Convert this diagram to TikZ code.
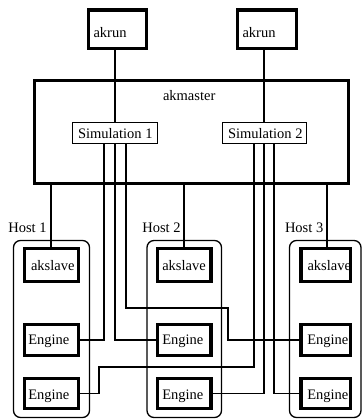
\documentclass[tikz,border=0pt]{standalone}
\usepackage{fontspec}
\setmainfont{Liberation Serif}
\begin{document}
\begin{tikzpicture}[x=1pt,y=-1pt,
  thickbox/.style={draw,line width=3.2pt,fill=white,inner sep=0pt,outer sep=0pt},
  simbox/.style={draw,line width=1.1pt,fill=white,inner sep=0pt,outer sep=0pt,minimum height=20.9pt},
  hostbox/.style={draw,line width=1.3pt,rounded corners=7pt},
  conn/.style={line width=1.1pt},
  lbl/.style={anchor=base west,inner sep=0pt,outer sep=0pt,font=\fontsize{14.5}{17}\selectfont}]
\useasboundingbox (0,0) rectangle (362,419);
% host boxes
\draw[hostbox] (13.5,240.5) rectangle (89.5,417.5);
\draw[hostbox] (147,240.5) rectangle (221.5,417.5);
\draw[hostbox] (289.5,240.5) rectangle (361,417.5);
% akmaster
\node[draw,line width=3.2pt,inner sep=0pt,outer sep=0pt,minimum width=313.8pt,minimum height=102.8pt] (m) at (191.5,132) {};
% boxes (coordinates only, drawn later)
\path (117.5,29.25) coordinate (r1c) (267,29.25) coordinate (r2c);
% run boxes
\node[thickbox,minimum width=57.8pt,minimum height=38.3pt] (r1) at (117.5,29.25) {};
\node[thickbox,minimum width=58.8pt,minimum height=38.3pt] (r2) at (267,29.25) {};
% sims
\node[simbox,minimum width=84.9pt] (s1) at (115,133) {};
\node[simbox,minimum width=83.9pt] (s2) at (264.5,133) {};
% slaves & engines
\node[thickbox,minimum width=53.8pt,minimum height=32.8pt] (sl1) at (51.5,265) {};
\node[thickbox,minimum width=53.5pt,minimum height=32.8pt] (sl2) at (184.3,265) {};
\node[thickbox,minimum width=49.3pt,minimum height=32.8pt] (sl3) at (325.7,265) {};
\node[thickbox,minimum width=53.8pt,minimum height=30.8pt] (e11) at (51.5,340) {};
\node[thickbox,minimum width=53.5pt,minimum height=30.8pt] (e21) at (184.3,340) {};
\node[thickbox,minimum width=49.3pt,minimum height=30.8pt] (e31) at (325.7,340) {};
\node[thickbox,minimum width=53.8pt,minimum height=30.3pt] (e12) at (51.5,393.3) {};
\node[thickbox,minimum width=53.5pt,minimum height=30.3pt] (e22) at (184.3,393.3) {};
\node[thickbox,minimum width=49.3pt,minimum height=30.3pt] (e32) at (325.7,393.3) {};
% connectors
\coordinate (c1) at (228,308);
\coordinate (c2) at (99,367);
\begin{scope}[on background layer/.style={}]
\draw[conn] (s1.north) -- (s1.north |- r1.south);
\draw[conn] ([xshift=-0.5pt]s2.north) -- ([xshift=-0.5pt]s2.north |- r2.south);
\draw[conn] ([xshift=-0.5pt]sl1.north) -- ([xshift=-0.5pt]sl1.north |- m.south);
\draw[conn] ([xshift=-0.3pt]sl2.north) -- ([xshift=-0.3pt]sl2.north |- m.south);
\draw[conn] ([xshift=1.3pt]sl3.north) -- ([xshift=1.3pt]sl3.north |- m.south);
\draw[conn] ([xshift=-11pt]s1.south) |- (e11.east);
\draw[conn] (s1.south) |- (e21.west);
\draw[conn] ([xshift=11pt]s1.south) |- (c1) |- (e31.west);
\draw[conn] ([xshift=-10.5pt]s2.south) |- (c2) |- (e12.east);
\draw[conn] ([xshift=-0.5pt]s2.south) |- (e22.east);
\draw[conn] ([xshift=9.5pt]s2.south) |- (e32.west);
\end{scope}
% redraw boxes on top
\foreach \n/\w/\h in {r1/57.8/38.3,r2/58.8/38.3,sl1/53.8/32.8,sl2/53.5/32.8,sl3/49.3/32.8,e11/53.8/30.8,e21/53.5/30.8,e31/49.3/30.8,e12/53.8/30.3,e22/53.5/30.3,e32/49.3/30.3}
  \draw[line width=3.2pt,fill=white] ([xshift=-\w/2*1pt,yshift=\h/2*1pt]\n.center) rectangle ([xshift=\w/2*1pt,yshift=-\h/2*1pt]\n.center);
\draw[line width=1.1pt,fill=white] (s1.north west) rectangle (s1.south east);
\draw[line width=1.1pt,fill=white] (s2.north west) rectangle (s2.south east);
% labels
\node[lbl] (t1) at (93.5,37.7) {akrun};
\node[lbl] (t2) at (242.5,37.7) {akrun};
\node[lbl] (tm) at (163,101) {akmaster};
\node[lbl] (ts1) at (78,138.3) {Simulation 1};
\node[lbl] (ts2) at (228,138.3) {Simulation 2};
\node[lbl] (tl1) at (31,270.7) {akslave};
\node[lbl] (tl2) at (162.3,270.7) {akslave};
\node[lbl] (tl3) at (307.5,270.7) {akslave};
\node[lbl] (te11) at (28.3,344.5) {Engine};
\node[lbl] (te21) at (162.3,344.5) {Engine};
\node[lbl] (te31) at (307.3,344.5) {Engine};
\node[lbl] (te12) at (28.3,399) {Engine};
\node[lbl] (te22) at (162.3,399) {Engine};
\node[lbl] (te32) at (307.3,399) {Engine};
\node[lbl] (h1) at (8.3,232.7) {Host 1};
\node[lbl] (h2) at (142.3,232.7) {Host 2};
\node[lbl] (h3) at (285,232.7) {Host 3};
\end{tikzpicture}
\end{document}
